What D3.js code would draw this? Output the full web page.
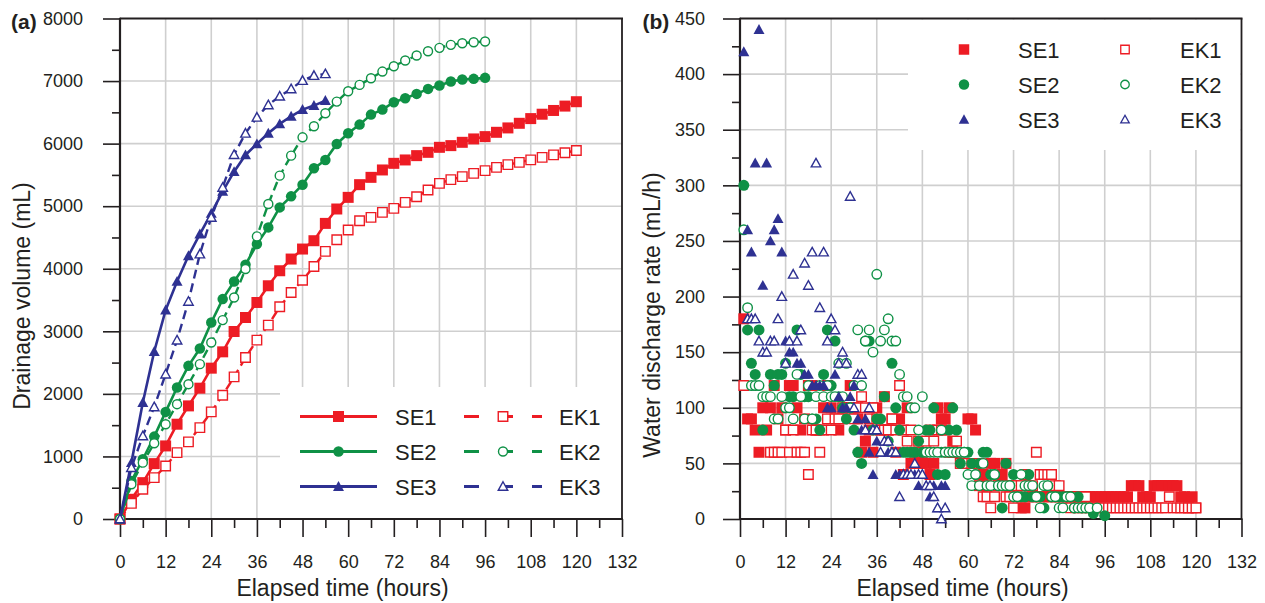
<!DOCTYPE html>
<html>
<head>
<meta charset="utf-8">
<title>Drainage volume and water discharge rate</title>
<script src="https://cdn.jsdelivr.net/npm/d3@7/dist/d3.min.js"></script>
<style>
  html, body { margin: 0; padding: 0; background: #ffffff; }
  svg { display: block; }
  text { font-family: Arial, "Liberation Sans", Helvetica, sans-serif; fill: #231f20; }
</style>
</head>
<body>
<svg id="chart" width="1265" height="603" viewBox="0 0 1265 603"></svg>
<script>
// ---------- Panel (a): cumulative drainage volume (mL), sampled every 3 h ----------
const volumeHours = [0,3,6,9,12,15,18,21,24,27,30,33,36,39,42,45,48,51,54,57,60,63,66,69,72,75,78,81,84,87,90,93,96,99,102,105,108,111,114,117,120];

const se1Volume = [0,315,581,885,1168,1515,1808,2091,2411,2672,2997,3221,3461,3728,3968,4155,4315,4448,4725,4955,5141,5344,5461,5579,5685,5739,5808,5861,5941,5968,6021,6075,6112,6181,6251,6325,6400,6470,6530,6600,6670];
const ek1Volume = [0,250,475,661,848,1061,1232,1461,1712,1979,2272,2581,2859,3099,3392,3621,3816,4037,4277,4464,4619,4768,4821,4901,4965,5061,5152,5259,5365,5424,5472,5525,5568,5621,5664,5701,5740,5780,5820,5855,5890];
const se2Volume = [0,608,955,1317,1712,2101,2448,2725,3141,3515,3797,4064,4395,4661,4981,5157,5344,5605,5739,5995,6165,6304,6464,6544,6661,6725,6795,6875,6928,6992,7024,7035,7051];
const ek2Volume = [0,555,901,1211,1515,1835,2155,2475,2821,3179,3541,3995,4517,5035,5488,5808,6101,6277,6485,6672,6837,6939,7045,7152,7237,7328,7408,7477,7531,7579,7605,7621,7632];
const se3Volume = [0,901,1861,2677,3339,3797,4208,4555,4885,5237,5552,5819,5995,6165,6315,6437,6544,6608,6688];
const ek3Volume = [0,821,1328,1792,2315,2859,3477,4235,4821,5300,5824,6165,6421,6619,6757,6875,7008,7088,7115];

// ---------- Panel (b): hourly water discharge rate (mL/h); entry i is hour i+1 ----------
const se1Rate = [180,90,90,80,60,100,80,100,120,90,
  100,80,120,120,100,80,90,120,120,80,
  80,100,120,100,90,80,90,100,120,100,
  90,60,70,80,60,100,80,110,80,90,
  60,90,40,100,50,50,60,50,50,40,
  50,100,90,90,100,70,60,50,50,90,
  90,80,30,40,30,50,50,30,40,50,
  30,30,20,10,10,20,20,20,20,20,
  20,20,20,20,20,20,20,20,20,20,
  20,20,20,20,20,20,20,20,20,20,
  20,20,30,30,30,20,20,20,30,30,
  30,30,30,30,30,20,20,10,20,10];
const ek1Rate = [120,null,null,null,null,null,null,60,60,60,
  60,80,60,80,60,60,60,40,80,80,
  60,80,90,80,90,90,100,100,100,90,
  100,110,100,90,100,90,80,80,80,90,
  80,120,80,70,80,60,70,60,70,80,
  70,80,80,80,60,60,70,50,50,50,
  50,50,50,20,20,10,20,30,30,20,
  20,10,30,30,40,30,30,60,40,40,
  40,40,30,30,20,20,10,20,10,10,
  20,10,10,10,10,10,10,10,10,10,
  10,10,10,10,10,10,10,10,10,10,
  10,10,20,10,10,10,10,10,10,10];
const se2Rate = [300,170,140,130,170,80,110,130,120,130,
  130,140,110,110,170,130,110,110,90,90,
  80,130,170,120,160,110,100,90,100,80,
  60,50,160,160,80,90,90,110,70,140,
  100,80,60,60,60,60,70,60,80,80,
  100,40,60,40,80,100,80,50,60,60,
  50,40,50,60,60,40,40,30,10,50,
  30,40,20,20,20,40,20,20,20,10,
  30,20,20,20,20,20,20,10,20,10,
  10,10,5,null,null,3];
const ek2Rate = [260,190,120,120,120,110,110,110,90,90,
  110,100,100,90,130,110,90,120,90,110,
  120,110,120,110,110,140,110,140,100,120,
  170,120,160,170,150,220,160,170,180,160,
  160,130,110,110,100,100,80,110,60,60,
  60,60,80,60,60,60,60,60,60,40,
  30,40,30,50,30,30,40,30,30,30,
  30,20,20,40,30,30,30,20,10,30,
  30,20,20,10,10,20,20,10,10,10,
  10,10,null,10,null,null];
const se3Rate = [420,260,240,320,440,210,320,250,260,270,
  240,160,150,150,140,140,130,130,120,120,
  120,120,100,100,130,110,100,100,110,120,
  90,80,90,60,40,70,60,70,60,60,
  40,40,40,40,40,40,30,40,30,20,
  30,10,30,30];
const ek3Rate = [null,180,180,180,160,150,150,160,160,180,
  200,140,160,220,160,170,230,210,240,320,
  190,240,160,180,170,140,150,140,290,100,
  130,130,80,100,80,80,60,70,70,60,
  60,20,40,40,40,50,40,40,30,30,
  20,10,0,10];

// ---------- Axis ticks and labels ----------
const timeTicks = [0,12,24,36,48,60,72,84,96,108,120,132];
const timeMinorTicks = [6,18,30,42,54,66,78,90,102,114,126];
const volumeTicks = [0,1000,2000,3000,4000,5000,6000,7000,8000];
const volumeMinorTicks = [500,1500,2500,3500,4500,5500,6500,7500];
const rateTicks = [0,50,100,150,200,250,300,350,400,450];
const rateMinorTicks = [25,75,125,175,225,275,325,375,425];
const seriesNames = ["SE1","EK1","SE2","EK2","SE3","EK3"];

const RED = "#ed1c24", GREEN = "#0f9146", BLUE = "#2e3192", INK = "#231f20", GRID = "#cfcfcf";
const seriesStyle = {
  SE1: { color: RED,   shape: "square",   filled: true  },
  EK1: { color: RED,   shape: "square",   filled: false },
  SE2: { color: GREEN, shape: "circle",   filled: true  },
  EK2: { color: GREEN, shape: "circle",   filled: false },
  SE3: { color: BLUE,  shape: "triangle", filled: true  },
  EK3: { color: BLUE,  shape: "triangle", filled: false }
};

// marker outlines; the symbol "size" is used as the marker width in px
const shapeTypes = {
  square:   { draw(ctx, s) { const h = s / 2; ctx.rect(-h, -h, s, s); } },
  circle:   { draw(ctx, s) { const r = s / 2; ctx.moveTo(r, 0); ctx.arc(0, 0, r, 0, 2 * Math.PI); } },
  triangle: { draw(ctx, s) { const w = s / 2; ctx.moveTo(0, -0.5 * s); ctx.lineTo(w, 0.4 * s); ctx.lineTo(-w, 0.4 * s); ctx.closePath(); } }
};

const svg = d3.select("#chart");

function drawMarkers(g, points, x, y, style, size, strokeW) {
  const sym = d3.symbol().type(shapeTypes[style.shape]).size(style.filled ? size : size - 1.5);
  g.append("g").selectAll("path").data(points).join("path")
    .attr("transform", d => `translate(${x(d[0])},${y(d[1])})`)
    .attr("d", sym)
    .attr("fill", style.filled ? style.color : "#ffffff")
    .attr("stroke", style.filled ? "none" : style.color)
    .attr("stroke-width", style.filled ? 0 : strokeW);
}

function drawFrame(g, x, y, yMajor, yMinor, yGrid, yLabelPad, box) {
  const [xl, xr] = x.range();
  const [yb, yt] = y.range();
  // grid
  g.append("g").selectAll("line").data(timeTicks.filter(t => t > 0 && t < 132)).join("line")
    .attr("x1", d => x(d)).attr("x2", d => x(d)).attr("y1", yb).attr("y2", yt)
    .attr("stroke", GRID).attr("stroke-width", 1.6);
  g.append("g").selectAll("line").data(yGrid).join("line")
    .attr("x1", xl).attr("x2", xr).attr("y1", d => y(d)).attr("y2", d => y(d))
    .attr("stroke", GRID).attr("stroke-width", 1.6);
  // legend background
  g.append("rect").attr("x", box[0]).attr("y", box[1]).attr("width", box[2] - box[0]).attr("height", box[3] - box[1]).attr("fill", "#ffffff");

  // y axis
  const ya = g.append("g").attr("transform", `translate(${xl},0)`).attr("color", INK)
    .call(d3.axisLeft(y).tickValues(yMajor).tickSize(17).tickPadding(yLabelPad).tickFormat(d3.format("d")));
  ya.attr("font-size", 18).attr("font-family", null);
  ya.select(".domain").remove();
  ya.selectAll(".tick line").attr("stroke-width", 1.6);
  const ym = g.append("g").attr("transform", `translate(${xl},0)`).attr("color", INK)
    .call(d3.axisLeft(y).tickValues(yMinor).tickSize(8).tickFormat(""));
  ym.select(".domain").remove();
  ym.selectAll(".tick line").attr("stroke-width", 1.6);

  // x axis
  const xa = g.append("g").attr("transform", `translate(0,${yb})`).attr("color", INK)
    .call(d3.axisBottom(x).tickValues(timeTicks).tickSize(18).tickPadding(18).tickFormat(d3.format("d")));
  xa.attr("font-size", 18).attr("font-family", null);
  xa.select(".domain").remove();
  xa.selectAll(".tick line").attr("stroke-width", 1.6);
  const xm = g.append("g").attr("transform", `translate(0,${yb})`).attr("color", INK)
    .call(d3.axisBottom(x).tickValues(timeMinorTicks).tickSize(9).tickFormat(""));
  xm.select(".domain").remove();
  xm.selectAll(".tick line").attr("stroke-width", 1.6);

  // box outline
  g.append("line").attr("x1", xl).attr("x2", xl).attr("y1", yt - 0.8).attr("y2", yb + 1).attr("stroke", INK).attr("stroke-width", 2.2);
  g.append("line").attr("x1", xl - 1).attr("x2", xr + 1).attr("y1", yb).attr("y2", yb).attr("stroke", INK).attr("stroke-width", 2.2);
  g.append("line").attr("x1", xl).attr("x2", xr + 1).attr("y1", yt).attr("y2", yt).attr("stroke", INK).attr("stroke-width", 1.8);
  g.append("line").attr("x1", xr).attr("x2", xr).attr("y1", yt).attr("y2", yb).attr("stroke", INK).attr("stroke-width", 1.8);
}

function axisTitles(g, xTitleX, yTitleX, yTitleY, yTitle, tag, tagX) {
  g.append("text").attr("x", xTitleX).attr("y", 596).attr("text-anchor", "middle").attr("font-size", 23).text("Elapsed time (hours)");
  g.append("text").attr("transform", `translate(${yTitleX},${yTitleY}) rotate(-90)`).attr("text-anchor", "middle").attr("font-size", 23).text(yTitle);
  g.append("text").attr("x", tagX).attr("y", 29).attr("font-size", 21).attr("font-weight", "bold").text(tag);
}

// ================= Panel (a) =================
const xa = d3.scaleLinear().domain([0, 132]).range([120, 622]);
const ya = d3.scaleLinear().domain([0, 8000]).range([519, 18.5]);
const gA = svg.append("g");
drawFrame(gA, xa, ya, volumeTicks, volumeMinorTicks, [1000,2000,3000,4000,5000,6000,7000], 20, [280, 387, 621, 518]);
axisTitles(gA, 342.5, 30, 296, "Drainage volume (mL)", "(a)", 11);

const volumeSeries = { SE1: se1Volume, EK1: ek1Volume, SE2: se2Volume, EK2: ek2Volume, SE3: se3Volume, EK3: ek3Volume };
const lineA = d3.line().x(d => xa(d[0])).y(d => ya(d[1]));
const markerSizeA = { square: 11, circle: 10.5, triangle: 11 };
seriesNames.forEach(name => {
  const st = seriesStyle[name];
  const pts = volumeSeries[name].map((v, i) => [volumeHours[i], v]);
  gA.append("path").datum(pts).attr("d", lineA).attr("fill", "none")
    .attr("stroke", st.color).attr("stroke-width", st.filled ? 2.6 : 2.4)
    .attr("stroke-dasharray", st.filled ? null : "9,5");
  drawMarkers(gA, pts, xa, ya, st, markerSizeA[st.shape], 1.4);
});

// legend (a)
const legendRowsA = [416.5, 451.5, 486.5];
[["SE1","EK1"],["SE2","EK2"],["SE3","EK3"]].forEach((pair, i) => {
  const yy = legendRowsA[i];
  const s = seriesStyle[pair[0]], e = seriesStyle[pair[1]];
  gA.append("line").attr("x1", 300).attr("x2", 377).attr("y1", yy).attr("y2", yy).attr("stroke", s.color).attr("stroke-width", 2.8);
  drawMarkers(gA, [[0, 0]], v => 338.5, v => yy, s, markerSizeA[s.shape], 1.4);
  gA.append("text").attr("x", 395).attr("y", yy + 8).attr("font-size", 22).text(pair[0]);
  gA.append("line").attr("x1", 464).attr("x2", 542).attr("y1", yy).attr("y2", yy).attr("stroke", e.color).attr("stroke-width", 2.8)
    .attr("stroke-dasharray", "15,24,10,19,10");
  drawMarkers(gA, [[0, 0]], v => 503, v => yy, e, markerSizeA[e.shape], 1.4);
  gA.append("text").attr("x", 559).attr("y", yy + 8).attr("font-size", 22).text(pair[1]);
});

// ================= Panel (b) =================
const xb = d3.scaleLinear().domain([0, 132]).range([740, 1241.5]);
const yb = d3.scaleLinear().domain([0, 450]).range([519, 18.5]);
const gB = svg.append("g");
drawFrame(gB, xb, yb, rateTicks, rateMinorTicks, [50,100,150,200,250,300,350,400], 18, [908, 19.5, 1240.5, 150]);
axisTitles(gB, 962.5, 660, 315, "Water discharge rate (mL/h)", "(b)", 642.5);

const rateSeries = { SE1: se1Rate, EK1: ek1Rate, SE2: se2Rate, EK2: ek2Rate, SE3: se3Rate, EK3: ek3Rate };
const markerSizeB = { square: 11, circle: 11, triangle: 11 };
seriesNames.forEach(name => {
  const st = seriesStyle[name];
  const pts = rateSeries[name].map((v, i) => [i + 1, v]).filter(d => d[1] !== null);
  drawMarkers(gB, pts, xb, yb, st, markerSizeB[st.shape], 1.4);
});

// legend (b)
const legendRowsB = [49.5, 84.5, 119.5];
[["SE1","EK1"],["SE2","EK2"],["SE3","EK3"]].forEach((pair, i) => {
  const yy = legendRowsB[i];
  drawMarkers(gB, [[0, 0]], v => 964, v => yy, seriesStyle[pair[0]], 10.5, 1.3);
  gB.append("text").attr("x", 1018).attr("y", yy + 8).attr("font-size", 22).text(pair[0]);
  drawMarkers(gB, [[0, 0]], v => 1125, v => yy, seriesStyle[pair[1]], 10, 1.3);
  gB.append("text").attr("x", 1180).attr("y", yy + 8).attr("font-size", 22).text(pair[1]);
});
</script>
</body>
</html>
